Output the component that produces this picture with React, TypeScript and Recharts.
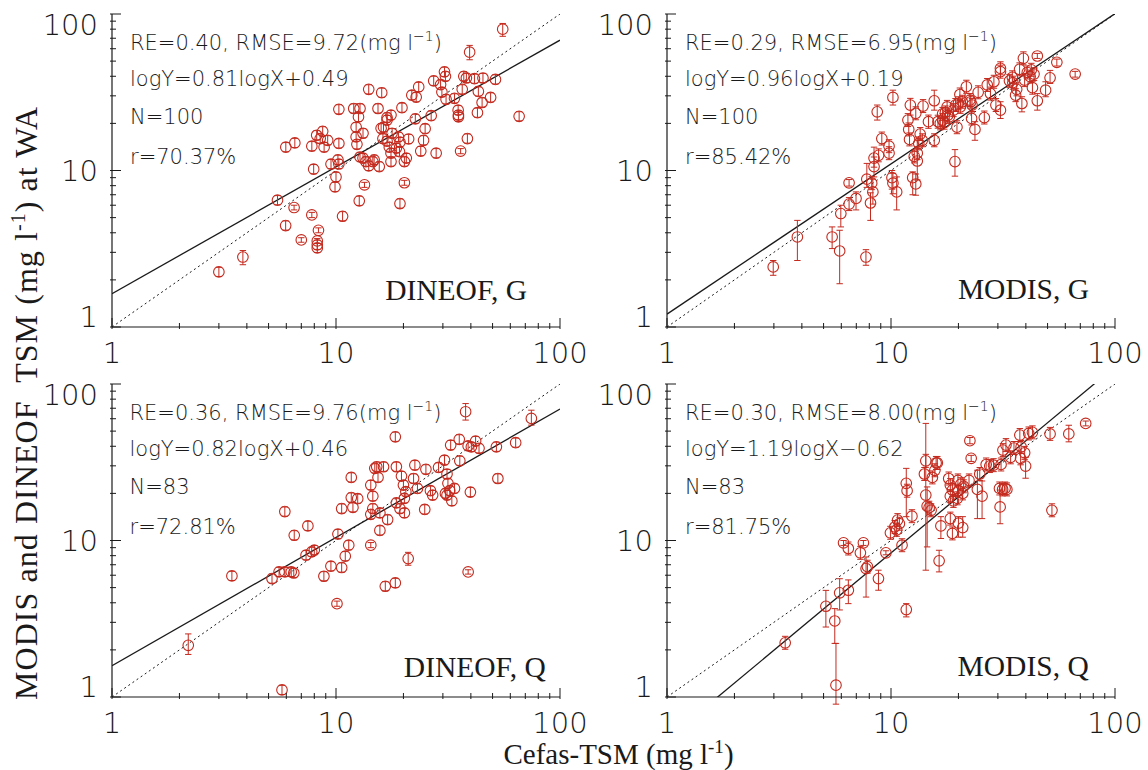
import { ScatterChart, Scatter, XAxis, YAxis, ErrorBar, ReferenceLine } from "recharts";

// [x, y] or [x, y, barLow, barHigh] (mg/l)
type Pt = number[];

const TICKS = [1, 2, 3, 4, 5, 6, 7, 8, 9, 10, 20, 30, 40, 50, 60, 70, 80, 90, 100];
const MAJOR = [1, 10, 100];

const dineofG: Pt[] = [
  [3.0, 2.25], [3.84, 2.8, 2.5, 3.08], [5.48, 6.46], [5.96, 4.45], [6.5, 5.8, 5.6, 6.0], [7.0, 3.6, 3.48, 3.72],
  [7.8, 5.2, 5.0, 5.4], [8.35, 4.15, 4.0, 4.3], [8.25, 3.55, 3.42, 3.68], [8.25, 3.35], [8.25, 3.2],
  [5.97, 14.1], [6.55, 15.0], [7.8, 14.3], [8.2, 16.8], [8.5, 16.0], [8.72, 17.8], [8.85, 14.1], [9.18, 15.6], [7.95, 10.2],
  [9.5, 11.0], [10.0, 9.1], [9.9, 7.85], [10.2, 11.7], [10.3, 11.0], [10.3, 14.9], [10.3, 24.6], [10.7, 5.1],
  [12.0, 24.9], [12.8, 24.9], [12.6, 22.0], [12.3, 18.9], [12.3, 16.4], [13.2, 17.3], [12.4, 14.7], [12.8, 12.2],
  [13.2, 12.0], [13.6, 11.4], [14.0, 10.7], [14.6, 11.4], [14.8, 11.7], [15.6, 10.6], [13.4, 8.1, 7.8, 8.4], [12.7, 6.4],
  [14.0, 33], [16.0, 31.4], [15.4, 24.9], [16.9, 21.8], [17.6, 22.6], [16.9, 21.0], [15.9, 18.6], [16.3, 18.9],
  [17.8, 17.3], [19.0, 16.4], [21.1, 15.9], [16.2, 16.0], [16.9, 15.4], [17.3, 14.1], [18.6, 13.9], [17.6, 12.9],
  [19.2, 13.2], [17.6, 11.4], [20.2, 11.4], [20.6, 12.0], [19.3, 15.2], [19.7, 25.2], [20.2, 8.35, 8.05, 8.65], [19.3, 6.15],
  [21.8, 30.3], [22.8, 29.4], [23.4, 34.2], [22.6, 21.4], [26.6, 22.4], [25.0, 18.5], [24.6, 15.6], [23.9, 13.3], [28.0, 12.9],
  [27.3, 37.4], [29.3, 35.4], [30.5, 42.7], [30.8, 40.0], [29.7, 31.7], [31.0, 28.5], [33.8, 28.9], [36.6, 33],
  [37.2, 40], [38.2, 39], [41.5, 38.6], [45.3, 39], [51.5, 38.2], [43.2, 32], [44.9, 27.2], [49, 29.3], [35.1, 24.3],
  [35.2, 22.6], [35.2, 22.0], [42.8, 23.4], [36.0, 13.3, 12.8, 13.8], [38.6, 16.0], [39.5, 57, 51, 63],
  [55.5, 80, 72, 87], [65.7, 22.2],
];

const modisG: Pt[] = [
  [2.98, 2.42, 2.14, 2.66], [3.82, 3.76, 2.66, 4.8], [5.46, 3.76, 3.17, 4.36], [5.9, 3.06, 1.89, 4.15],
  [7.73, 2.8, 2.48, 3.12], [5.97, 5.31, 4.36, 6.0], [6.5, 6.1], [6.98, 6.63, 5.6, 7.3], [6.5, 8.34, 7.95, 8.75],
  [19.3, 11.4, 9.2, 13.6], [66.4, 41.3, 39.5, 43], [8.68, 23.7, 21.0, 26.2], [10.2, 29.3, 26.2, 32.6],
  [39, 52.1], [45, 53.9, 52, 56], [55, 49.1, 46.5, 51.5], [30.8, 45], [30.8, 42.8], [34.8, 39.4], [37.5, 44.3],
  [40.6, 42.3], [42.3, 44], [39.5, 37.8], [43.5, 41.3], [41.8, 39.8], [26.9, 35.2], [28.8, 36.9], [33.8, 37.4],
  [35, 36.4], [36.4, 33], [42.8, 33.8], [51.3, 39.1, 36, 43.6], [49, 32.6, 29.6, 36.9], [45, 27.9, 24.3, 31],
  [38.4, 26.8, 23.7, 29.6], [36, 30.3], [27.8, 31], [24.5, 31.6], [21.7, 34.3], [20.3, 30.6], [22.7, 27.5],
  [19.4, 26.2], [17.8, 25.5], [15.6, 27.9, 24.3, 32.6], [13.9, 25.8], [12.2, 26.2, 22.6, 28.9], [12.9, 23.2],
  [11.9, 21], [14.7, 20.5, 18.6, 22.6], [15.6, 15.6],
  [17.0, 23.0], [17.5, 23.5], [17.9, 22.5], [18.2, 22.0], [16.2, 20.5], [16.6, 20.0], [17.0, 21.0], [17.3, 20.2],
  [19, 24.3], [20, 26.9], [20.4, 25.5], [20.8, 27.5], [22.5, 28.2], [23, 26.2], [19.7, 18.9], [23.7, 18.3, 15.6, 20.5],
  [26.1, 21.8], [29.4, 26.2], [30.8, 24.3, 21.5, 27.5], [22.9, 21.5], [13.5, 17.1], [13.8, 15.6], [13.3, 14.9],
  [12.0, 18.3], [12.1, 15.8], [13.1, 12.9], [12.7, 12.3], [13.1, 11.5, 8.7, 15.6], [12.5, 9.0, 7.0, 9.8],
  [12.9, 8.2, 6.95, 9.5], [10.6, 7.3, 5.6, 9.1], [10.1, 9.0, 7.6, 10], [10.2, 8.3, 7.1, 9.6], [9.8, 12.9],
  [9.8, 14.3], [9.1, 16], [8.8, 12.5], [8.4, 12, 10.5, 14.1], [8.4, 10.6, 9.1, 12.2], [7.8, 8.8, 7.8, 11.1],
  [8.2, 8.3], [8.3, 7.3, 6.1, 8.8], [8.1, 6.2, 4.8, 7.2],
];

const dineofQ: Pt[] = [
  [2.19, 2.14, 1.87, 2.53], [5.74, 1.11], [3.43, 5.94], [5.18, 5.71], [5.57, 6.3], [5.91, 6.3], [6.31, 6.3],
  [6.48, 6.2], [5.91, 15.3], [6.51, 10.8], [7.49, 12.4], [7.35, 8.06], [7.79, 8.46], [8.0, 8.68], [8.83, 5.91],
  [9.49, 6.85], [10.1, 3.95, 3.8, 4.1], [10.2, 11], [10.6, 6.72], [10.6, 16], [11, 7.94], [11.4, 9.33], [11.7, 25.3],
  [11.7, 18.8], [11.9, 16.3], [12.5, 18.5], [14.3, 22.6], [14.6, 19.2], [14.6, 16], [14.3, 14.7], [14.3, 9.33, 9.0, 9.7],
  [14.9, 28.9], [15.2, 29.6], [16.3, 29.6], [15.4, 25.3], [15.7, 15.0], [15.7, 11.6], [17, 13.6], [16.6, 5.1],
  [18.4, 5.36], [18.4, 46], [18.6, 29.6], [19.6, 25.8], [18.6, 17.4], [19.3, 16], [20.2, 15], [20, 22.6],
  [20.5, 20.5], [20.2, 18.6], [21, 7.67, 6.95, 8.4], [22.2, 24.9], [22.5, 30.3], [23.1, 21.5], [24.9, 15.8],
  [25.2, 28.5], [26.4, 20.8], [27, 19.5], [28.7, 29.3], [30.5, 32.6], [30.8, 20], [31.3, 19.5], [32.2, 20.8],
  [32.9, 17.9], [31.6, 23.2], [31.3, 26.6], [33.8, 21.5], [32.5, 40.7], [35.5, 44.3], [35.7, 32.3],
  [37.9, 66.5, 58.8, 75], [38.9, 6.3, 6.1, 6.5], [38.9, 40.2], [40.2, 39.6], [39.8, 20.4], [42, 43.2], [43.5, 38.8],
  [52, 39.7], [52.8, 24.9], [63.4, 42.2], [74.5, 60.3, 54.6, 68],
];

const modisQ: Pt[] = [
  [3.37, 2.22], [5.12, 3.8, 2.8, 4.8], [5.61, 3.06, 2.2, 3.67], [5.68, 1.19, 0.9, 2.2], [5.9, 4.63, 3.6, 5.7],
  [6.45, 4.81, 3.95, 5.6], [6.14, 9.66, 9.3, 10], [6.45, 8.89], [7.3, 8.34], [7.53, 9.66, 9.3, 10],
  [7.74, 6.62, 4.35, 7.85], [7.85, 6.8], [8.79, 5.71, 4.81, 6.46], [9.49, 8.34, 8.1, 8.6], [9.94, 11.2],
  [10.4, 12.2], [10.6, 11.7], [10.9, 12.8], [10.7, 13.5], [11.2, 9.33], [11.7, 3.62, 3.25, 3.95],
  [11.7, 23.2, 14.2, 28.9], [11.8, 20.8], [12.4, 14.3], [14.1, 26.6], [14.3, 19.5, 6.46, 56], [14.5, 16.6, 9.1, 22],
  [14.8, 16.2], [14.3, 32.3], [15.3, 25.3], [15.7, 28.1], [15.9, 31.3], [16.1, 31.3], [15.1, 15.6],
  [16.4, 7.41, 6.3, 8.66], [16.7, 12.4, 10.3, 14.2], [18.1, 24.9], [18.4, 22.6], [18.8, 21], [18.4, 19.2],
  [19.0, 17.9], [18.4, 13.8], [18.8, 11.1], [19.9, 24.2], [20.5, 22.9], [20, 20.8], [21.1, 22.2], [19.8, 18.6],
  [20.9, 20], [20, 12.9, 10.5, 14.2], [20.9, 12.1, 10.5, 14.2], [22.5, 43.4, 41.5, 45.5], [22.8, 33.5, 32, 35],
  [22.3, 24.2], [24.3, 21.2, 13.8, 28.1], [25.5, 19.2, 13.8, 24], [24.9, 26.6], [26.6, 30.6], [27.6, 29.9],
  [28.7, 30.3], [30.5, 21.5], [31.5, 21.2], [32.3, 21.5], [32.9, 21.2], [30.7, 16.4, 12.8, 21], [31, 30.6],
  [31.6, 37.8], [32.6, 40.7], [34.2, 34], [35.4, 39], [37.6, 47.2], [38.1, 39.6], [37.9, 33.5],
  [39.9, 29.9, 25, 34], [39.5, 36.3], [41.2, 48.3], [42.8, 49.1], [51.3, 48], [52.3, 15.6],
  [62.2, 48, 42.7, 54.5], [74, 56, 54, 58],
];

// lnY = slope * lnX + intercept, as printed on each panel
const fitDineofG = [0.81, 0.49];
const fitModisG = [0.96, 0.19];
const fitDineofQ = [0.82, 0.46];
const fitModisQ = [1.19, -0.62];

const statsDineofG = ["0.40", "9.72", "logY=0.81logX+0.49", "N=100", "r=70.37%"];
const statsModisG = ["0.29", "6.95", "logY=0.96logX+0.19", "N=100", "r=85.42%"];
const statsDineofQ = ["0.36", "9.76", "logY=0.82logX+0.46", "N=83", "r=72.81%"];
const statsModisQ = ["0.30", "8.00", "logY=1.19logX\u22120.62", "N=83", "r=81.75%"];

const RED = "#c42a1e";
const INK = "#1a1a1a";
const SANS = "'DejaVu Sans', sans-serif";
const SERIF = "'Liberation Serif', 'Times New Roman', serif";

function toRows(pts: Pt[], rel: number) {
  return pts.map(([x, y, lo, hi]) => ({
    x,
    y,
    err: [y - (lo ?? y / (1 + rel)), (hi ?? y * (1 + rel)) - y],
  }));
}

function fitSegment([slope, icpt]: number[]) {
  const f = (x: number) => Math.pow(10, slope * Math.log10(x) + icpt / Math.LN10);
  return [{ x: 1, y: f(1) }, { x: 100, y: f(100) }];
}

function Ring(props: any) {
  const { cx, cy } = props;
  if (cx == null || cy == null) return null;
  return <circle cx={cx} cy={cy} r={5.3} fill="none" stroke={RED} strokeWidth={1.1} />;
}

const labelStyle = { fontFamily: SANS, fontSize: 29, fontWeight: 200, fill: INK };

function makeTick(side: "bottom" | "top" | "left" | "right") {
  return (props: any) => {
    const { x, y, payload } = props;
    const v = payload.value;
    const major = MAJOR.includes(v);
    const len = major ? 11 : 6;
    let line;
    let label = null;
    if (side === "bottom") {
      line = <line x1={x} y1={y} x2={x} y2={y - len} stroke={INK} />;
      if (major)
        label = (
          <text x={x} y={y + 33.5} textAnchor="middle" style={labelStyle}>
            {v}
          </text>
        );
    } else if (side === "top") {
      line = <line x1={x} y1={y} x2={x} y2={y + len} stroke={INK} />;
    } else if (side === "left") {
      line = <line x1={x} y1={y} x2={x + len} y2={y} stroke={INK} />;
      const dy = v === 100 ? 11 : v === 1 ? -10 : 0;
      if (major)
        label = (
          <text x={x - 12} y={y + dy} textAnchor="end" dominantBaseline="central" style={labelStyle}>
            {v}
          </text>
        );
    } else {
      line = <line x1={x} y1={y} x2={x - len} y2={y} stroke={INK} />;
    }
    return (
      <g>
        {line}
        {label}
      </g>
    );
  };
}

const bottomTick = makeTick("bottom");
const topTick = makeTick("top");
const leftTick = makeTick("left");
const rightTick = makeTick("right");
const axisLine = { stroke: INK, strokeWidth: 1.2 };

interface PanelProps {
  pts: Pt[];
  rel: number;
  fit: number[];
  left: number;
  top: number;
}

function Panel({ pts, rel, fit, left, top }: PanelProps) {
  const rows = toRows(pts, rel);
  const common = {
    type: "number" as const,
    scale: "log" as const,
    domain: [1, 100],
    allowDataOverflow: true,
    ticks: TICKS,
    interval: 0,
    tickSize: 0,
    tickLine: false,
    axisLine,
  };
  return (
    <div style={{ position: "absolute", left, top }}>
      <ScatterChart width={590} height={377} margin={{ top: 14, right: 30, bottom: 0, left: 0 }}>
        <XAxis dataKey="x" height={50} tick={bottomTick} {...common} />
        <XAxis xAxisId="top" orientation="top" height={0} tick={topTick} {...common} />
        <YAxis dataKey="y" width={112} tick={leftTick} {...common} />
        <YAxis yAxisId="right" orientation="right" width={0} tick={rightTick} {...common} />
        <ReferenceLine
          segment={[{ x: 1, y: 1 }, { x: 100, y: 100 }]}
          stroke={INK}
          strokeWidth={1}
          strokeDasharray="2 3"
          ifOverflow="hidden"
        />
        <ReferenceLine segment={fitSegment(fit)} stroke={INK} strokeWidth={1.3} ifOverflow="hidden" />
        <Scatter data={rows} dataKey="y" shape={Ring} isAnimationActive={false}>
          <ErrorBar dataKey="err" direction="y" width={3.2} stroke={RED} strokeWidth={1} isAnimationActive={false} />
        </Scatter>
      </ScatterChart>
    </div>
  );
}

const statBaselines = [49.5, 85.5, 123.5, 164];

function Stats({ s, x, y0 }: { s: string[]; x: number; y0: number }) {
  const st = { fontFamily: SANS, fontSize: 21, fontWeight: 200, fill: INK };
  return (
    <g>
      <text x={x} y={y0 + statBaselines[0]} style={{ ...st, whiteSpace: "pre" }}>
        {`RE=${s[0]}, RMSE=${s[1]}(mg l`}
        <tspan dy={-9} fontSize={14}>
          {"\u22121"}
        </tspan>
        <tspan dy={9}>)</tspan>
      </text>
      {s.slice(2).map((t, i) => (
        <text key={i} x={x} y={y0 + statBaselines[i + 1]} style={st}>
          {t}
        </text>
      ))}
    </g>
  );
}

export default function App() {
  const serif = { fontFamily: SERIF, fill: INK };
  return (
    <div style={{ position: "absolute", left: 0, top: 0, width: 1148, height: 770, background: "#fff" }}>
      <Panel pts={dineofG} rel={0.07} fit={fitDineofG} left={0} top={0} />
      <Panel pts={modisG} rel={0.1} fit={fitModisG} left={555} top={0} />
      <Panel pts={dineofQ} rel={0.07} fit={fitDineofQ} left={0} top={370} />
      <Panel pts={modisQ} rel={0.1} fit={fitModisQ} left={555} top={370} />
      <svg
        width={1148}
        height={770}
        style={{ position: "absolute", left: 0, top: 0, pointerEvents: "none" }}
      >
        <Stats s={statsDineofG} x={130} y0={0} />
        <Stats s={statsModisG} x={685} y0={0} />
        <Stats s={statsDineofQ} x={129.5} y0={370} />
        <Stats s={statsModisQ} x={685} y0={370} />

        <text x={527} y={300} textAnchor="end" fontSize={29.5} style={serif}>DINEOF, G</text>
        <text x={1089} y={298.5} textAnchor="end" fontSize={29.5} style={serif}>MODIS, G</text>
        <text x={545.7} y={677} textAnchor="end" fontSize={29.5} style={serif}>DINEOF, Q</text>
        <text x={1088.7} y={676} textAnchor="end" fontSize={29.5} style={serif}>MODIS, Q</text>

        <text
          transform="translate(37,403.5) rotate(-90)"
          textAnchor="middle"
          fontSize={32}
          textLength={593}
          style={{ ...serif, whiteSpace: "pre" }}
        >
          {"MODIS and DINEOF  TSM (mg l"}
          <tspan dy={-12} fontSize={20}>-1</tspan>
          <tspan dy={12}>) at WA</tspan>
        </text>
        <text x={618.5} y={764} textAnchor="middle" fontSize={29} style={{ ...serif, whiteSpace: "pre" }}>
          {"Cefas-TSM (mg l"}
          <tspan dy={-11} fontSize={19}>-1</tspan>
          <tspan dy={11}>)</tspan>
        </text>
      </svg>
    </div>
  );
}
